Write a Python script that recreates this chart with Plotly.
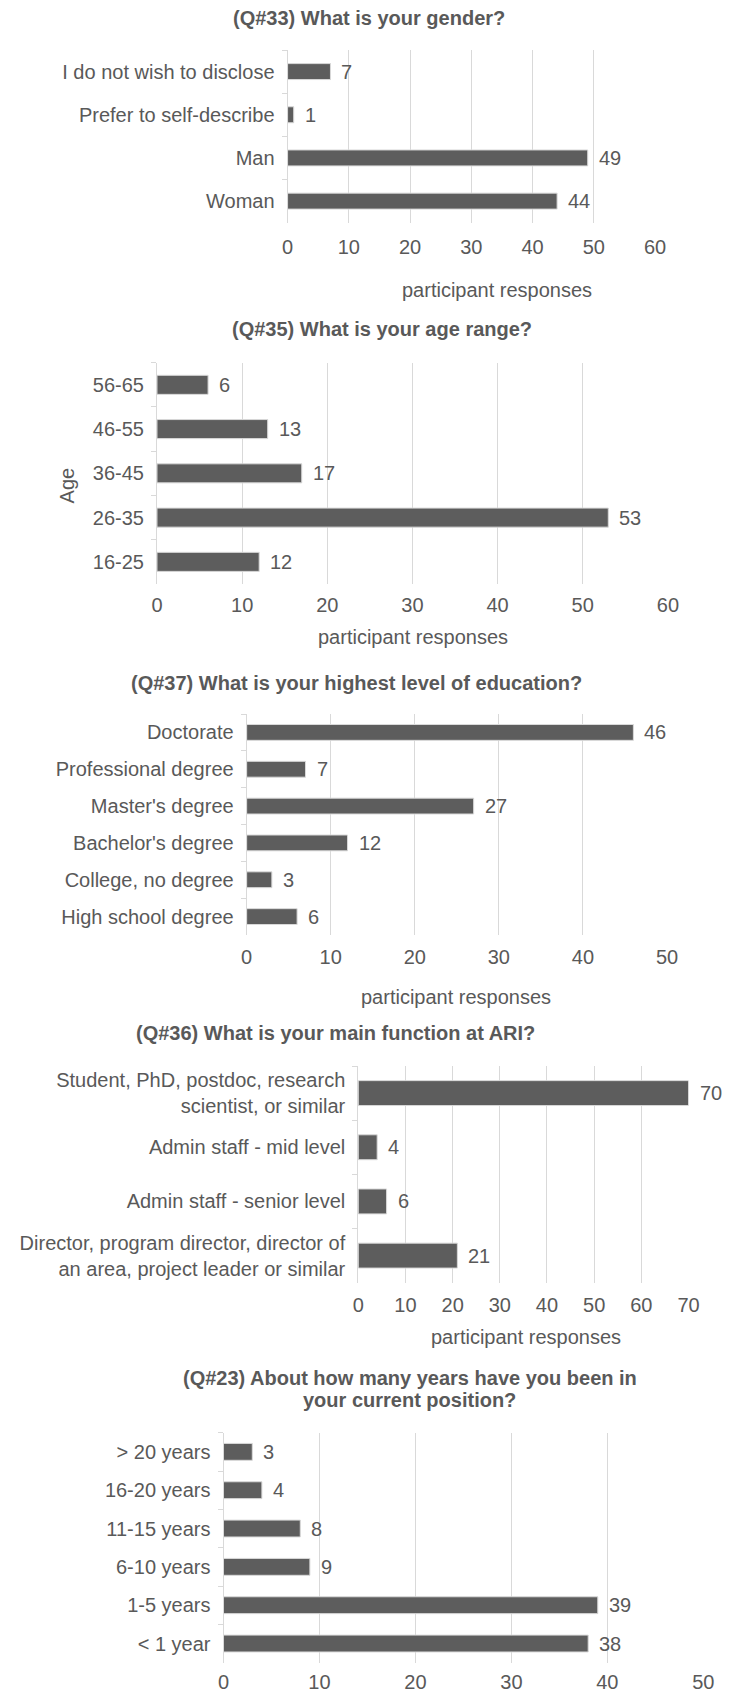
import plotly.graph_objects as go

# ---- survey data -------------------------------------------------------
gender_labels = ["I do not wish to disclose", "Prefer to self-describe", "Man", "Woman"]
gender_counts = [7, 1, 49, 44]

age_labels = ["56-65", "46-55", "36-45", "26-35", "16-25"]
age_counts = [6, 13, 17, 53, 12]

edu_labels = ["Doctorate", "Professional degree", "Master's degree",
              "Bachelor's degree", "College, no degree", "High school degree"]
edu_counts = [46, 7, 27, 12, 3, 6]

role_labels = ["Student, PhD, postdoc, research<br>scientist, or similar",
               "Admin staff - mid level",
               "Admin staff - senior level",
               "Director, program director, director of<br>an area, project leader or similar"]
role_counts = [70, 4, 6, 21]

tenure_labels = ["> 20 years", "16-20 years", "11-15 years", "6-10 years",
                 "1-5 years", "< 1 year"]
tenure_counts = [3, 4, 8, 9, 39, 38]

# ---- page geometry / style ----------------------------------------------
W, H = 729, 1695
FONT = "Liberation Sans, Arial, sans-serif"
TXT = "#595959"
BAR = "#5d5d5d"
GRID = "#d9d9d9"
FS = 20


def px(x):
    return x / W


def py(y):
    return 1 - y / H


panels = [
    dict(labels=gender_labels, counts=gender_counts, xmax=60,
         box=(288.3, 664.6, 50, 222.7), bar=0.37,
         title=["(Q#33) What is your gender?"], title_pos=(371.5, [18]),
         xtitle=(503, 290), xstand=10),
    dict(labels=age_labels, counts=age_counts, xmax=60,
         box=(154.6, 677.7, 362.7, 584), bar=0.43,
         title=["(Q#35) What is your age range?"], title_pos=(385, [329.3]),
         xtitle=(416.4, 636.7), xstand=7, ytitle=("Age", 62.9, 485)),
    dict(labels=edu_labels, counts=edu_counts, xmax=50,
         box=(246.4, 676.8, 714, 935), bar=0.43,
         title=["(Q#37) What is your highest level of education?"],
         title_pos=(359.3, [683.3]),
         xtitle=(460.6, 996.7), xstand=8),
    dict(labels=role_labels, counts=role_counts, xmax=70,
         box=(360.7, 698.8, 1066, 1282.7), bar=0.46,
         title=["(Q#36) What is your main function at ARI?"],
         title_pos=(337.7, [1033]),
         xtitle=(532, 1336.7), xstand=8),
    dict(labels=tenure_labels, counts=tenure_counts, xmax=50,
         box=(222.7, 714, 1432.7, 1662.7), bar=0.44,
         title=["(Q#23) About how many years have you been in",
                "your current position?"],
         title_pos=(413.4, [1377.7, 1400]),
         xtitle=None, xstand=5),
]

fig = go.Figure()
annotations = []
layout_axes = {}

for i, p in enumerate(panels, start=1):
    sfx = "" if i == 1 else str(i)
    xref, yref = "x" + sfx, "y" + sfx
    left, right, top, bottom = p["box"]

    fig.add_trace(go.Bar(
        x=p["counts"], y=p["labels"], orientation="h",
        xaxis=xref, yaxis=yref, width=p["bar"],
        marker=dict(color=BAR, line=dict(color=GRID, width=1)),
        hoverinfo="skip", showlegend=False,
    ))

    layout_axes["xaxis" + sfx] = dict(
        domain=[px(left), px(right)], anchor=yref,
        range=[0, p["xmax"]], tick0=0, dtick=10, autorange=False,
        showgrid=True, gridcolor=GRID, gridwidth=1,
        zeroline=False, showline=False, ticks="",
        tickfont=dict(family=FONT, size=FS, color=TXT),
        ticklabelstandoff=p["xstand"], fixedrange=True,
    )
    layout_axes["yaxis" + sfx] = dict(
        domain=[py(bottom), py(top)], anchor=xref,
        type="category", autorange="reversed",
        showgrid=False, zeroline=False,
        showline=True, linecolor=GRID, linewidth=1,
        ticks="outside", ticklen=5, tickcolor=GRID, tickwidth=1,
        tickson="boundaries",
        tickfont=dict(family=FONT, size=FS, color=TXT),
        ticklabelstandoff=8, fixedrange=True,
    )

    # value labels just past each bar end
    for lab, val in zip(p["labels"], p["counts"]):
        annotations.append(dict(
            x=val, y=lab, xref=xref, yref=yref, text=str(val),
            showarrow=False, xanchor="left", yanchor="middle", xshift=9,
            font=dict(family=FONT, size=FS, color=TXT),
        ))

    # chart title (one annotation per line)
    tx, tys = p["title_pos"]
    for line, ty in zip(p["title"], tys):
        annotations.append(dict(
            x=px(tx), y=py(ty), xref="paper", yref="paper", text="<b>%s</b>" % line,
            showarrow=False, xanchor="center", yanchor="middle",
            font=dict(family=FONT, size=FS, color=TXT),
        ))

    if p["xtitle"]:
        ax_, ay_ = p["xtitle"]
        annotations.append(dict(
            x=px(ax_), y=py(ay_), xref="paper", yref="paper",
            text="participant responses", showarrow=False,
            xanchor="center", yanchor="middle",
            font=dict(family=FONT, size=FS, color=TXT),
        ))

    if p.get("ytitle"):
        t, ax_, ay_ = p["ytitle"]
        annotations.append(dict(
            x=px(ax_), y=py(ay_), xref="paper", yref="paper", text=t,
            textangle=-90, showarrow=False, xanchor="center", yanchor="middle",
            font=dict(family=FONT, size=FS, color=TXT),
        ))

fig.update_layout(
    width=W, height=H,
    margin=dict(l=0, r=0, t=0, b=0),
    paper_bgcolor="white", plot_bgcolor="white",
    annotations=annotations,
    **layout_axes,
)

fig.write_html("out.html", config={"displayModeBar": False})
